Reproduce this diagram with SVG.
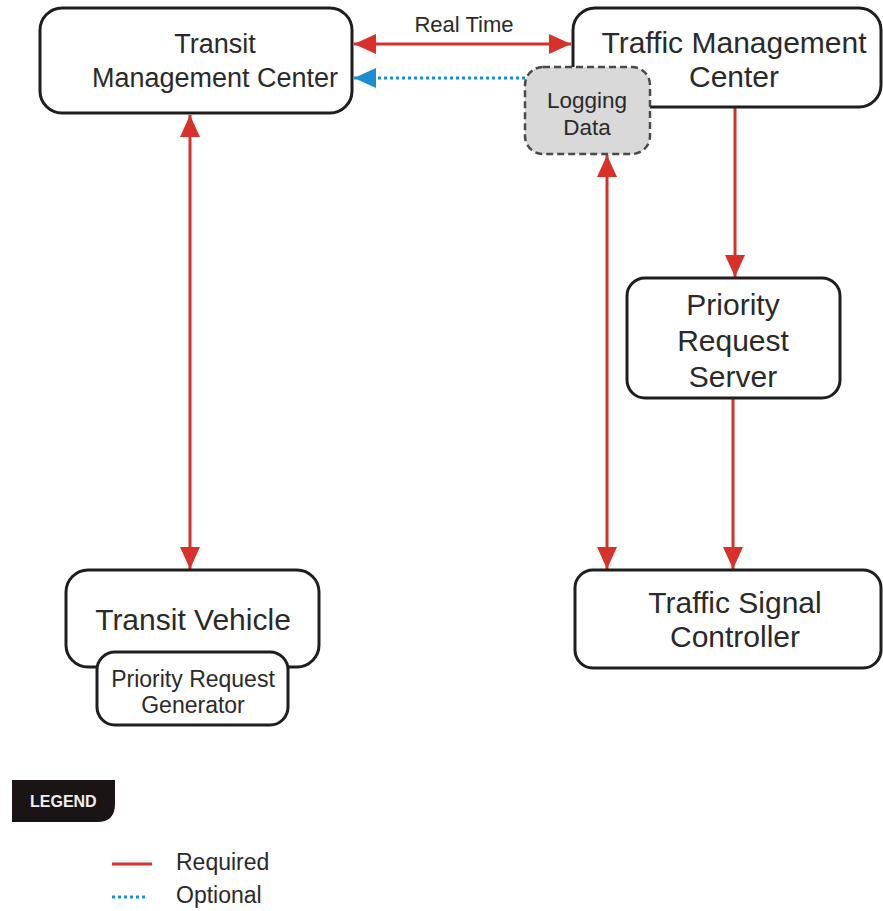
<svg xmlns="http://www.w3.org/2000/svg" width="883" height="911" viewBox="0 0 883 911">
<style>
.box{fill:#fff;stroke:#1e1e1e;stroke-width:3}
.t{font-family:"Liberation Sans",Arial,sans-serif;fill:#2a2a2a;text-anchor:middle}
.req{stroke:#d8302a;stroke-width:3;fill:none}
.opt{stroke:#1a8fd0;stroke-width:3;fill:none;stroke-dasharray:3 3}
</style>
<defs>
<marker id="ar" markerUnits="userSpaceOnUse" markerWidth="24" markerHeight="22" refX="22" refY="11" orient="auto-start-reverse"><path d="M0,1 L22,11 L0,21 Z" fill="#d8302a"/></marker>
<marker id="ab" markerUnits="userSpaceOnUse" markerWidth="24" markerHeight="22" refX="22" refY="11" orient="auto-start-reverse"><path d="M0,1 L22,11 L0,21 Z" fill="#1a8fd0"/></marker>
</defs>
<rect width="883" height="911" fill="#fff"/>
<g id="connectors">
<line class="req" x1="354" y1="44" x2="571" y2="44" marker-start="url(#ar)" marker-end="url(#ar)"/>
<line class="opt" x1="525" y1="78" x2="354" y2="78" marker-end="url(#ab)"/>
<line class="req" x1="190" y1="115" x2="190" y2="569" marker-start="url(#ar)" marker-end="url(#ar)"/>
<line class="req" x1="607" y1="155" x2="607" y2="569" marker-start="url(#ar)" marker-end="url(#ar)"/>
<line class="req" x1="735" y1="108" x2="735" y2="277" marker-end="url(#ar)"/>
<line class="req" x1="733" y1="398" x2="733" y2="569" marker-end="url(#ar)"/>
<text class="t" x="464" y="32" font-size="22">Real Time</text>
</g>
<g id="tmc-transit">
<rect class="box" x="40" y="8" width="312" height="105" rx="22"/>
<text class="t" x="215" y="53" font-size="27">Transit</text>
<text class="t" x="215" y="87" font-size="27">Management Center</text>
</g>
<g id="tmc-traffic">
<rect class="box" x="573" y="8" width="308" height="99" rx="22"/>
<text class="t" x="734" y="53" font-size="30">Traffic Management</text>
<text class="t" x="734" y="87" font-size="30">Center</text>
</g>
<g id="logging">
<rect x="525" y="67" width="125" height="87" rx="18" fill="#d9d9d9" stroke="#4a4a4a" stroke-width="2.5" stroke-dasharray="7 4"/>
<text class="t" x="587" y="108" font-size="22.5">Logging</text>
<text class="t" x="587" y="135" font-size="22.5">Data</text>
</g>
<g id="prs">
<rect class="box" x="627" y="278" width="213" height="120" rx="18"/>
<text class="t" x="733" y="315" font-size="30">Priority</text>
<text class="t" x="733" y="351" font-size="30">Request</text>
<text class="t" x="733" y="387" font-size="30">Server</text>
</g>
<g id="tsc">
<rect class="box" x="575" y="570" width="306" height="98" rx="18"/>
<text class="t" x="735" y="613" font-size="30">Traffic Signal</text>
<text class="t" x="735" y="647" font-size="30">Controller</text>
</g>
<g id="vehicle">
<rect class="box" x="66" y="570" width="253" height="97" rx="22"/>
<text class="t" x="193" y="630" font-size="30">Transit Vehicle</text>
</g>
<g id="prg">
<rect class="box" x="97" y="652" width="191" height="73" rx="18"/>
<text class="t" x="193" y="687" font-size="23">Priority Request</text>
<text class="t" x="193" y="713" font-size="23">Generator</text>
</g>
<g id="legend">
<path d="M12,780 H115 V804 Q115,822 97,822 H12 Z" fill="#1a1414"/>
<text x="30" y="807" font-family="Liberation Sans,Arial,sans-serif" font-weight="bold" font-size="16" fill="#f0f0f0">LEGEND</text>
<line class="req" x1="112" y1="864" x2="152" y2="864"/>
<line class="opt" x1="112" y1="897" x2="148" y2="897"/>
<text x="176" y="870" font-family="Liberation Sans,Arial,sans-serif" font-size="23" fill="#2a2a2a">Required</text>
<text x="176" y="903" font-family="Liberation Sans,Arial,sans-serif" font-size="23" fill="#2a2a2a">Optional</text>
</g>
</svg>
